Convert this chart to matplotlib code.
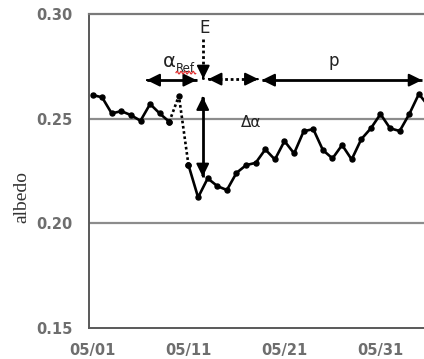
import numpy as np
import matplotlib
matplotlib.use("Agg")
import matplotlib.pyplot as plt

# Daily albedo, day 1 = May 1
days = np.arange(1, 37)
albedo = [0.2613, 0.2602, 0.2525, 0.2536, 0.2517, 0.2490, 0.2570, 0.2525, 0.2485,
          0.2609, 0.2278, 0.2124, 0.2215, 0.2178, 0.2159, 0.2241, 0.2278, 0.2289,
          0.2353, 0.2305, 0.2393, 0.2334, 0.2440, 0.2450, 0.2350, 0.2310, 0.2374,
          0.2305, 0.2402, 0.2454, 0.2522, 0.2454, 0.2441, 0.2522, 0.2618, 0.2560]
xtick_days = [1, 11, 21, 31]
xtick_labels = ["05/01", "05/11", "05/21", "05/31"]
yticks = [0.15, 0.20, 0.25, 0.30]
ytick_labels = ["0.15", "0.20", "0.25", "0.30"]

W, H = 424, 359
fig = plt.figure(figsize=(W / 100, H / 100), dpi=100)
ax = fig.add_axes([89 / W, 31 / H, (440 - 89) / W, (328 - 14) / H])
ax.set_xlim(0.635, 37.2)
ax.set_ylim(0.15, 0.30)

# horizontal reference lines
for yv in [0.20, 0.25]:
    ax.axhline(yv, color="#8c8c8c", lw=1.6, zorder=1)

for s in ["left", "bottom"]:
    ax.spines[s].set_color("#595959")
    ax.spines[s].set_linewidth(1.4)
ax.spines["top"].set_color("#7a7a7a")
ax.spines["top"].set_linewidth(1.6)
ax.spines["right"].set_visible(False)

ax.set_xticks(xtick_days)
ax.set_xticklabels(xtick_labels)
ax.set_yticks(yticks)
ax.set_yticklabels(ytick_labels)
ax.tick_params(length=0, labelcolor="#6e6e6e")
ax.tick_params(axis="y", pad=12)
ax.tick_params(axis="x", pad=11)
for lab in ax.get_xticklabels() + ax.get_yticklabels():
    lab.set_fontfamily("DejaVu Sans")
    lab.set_fontweight("bold")
    lab.set_fontsize(10.5)

fig.text(22 / W, 1 - 197 / H, "albedo", rotation=90, ha="center", va="center",
         family="Liberation Serif", fontsize=14, color="#333333")

d = np.array(days)
a = np.array(albedo)
lw = 1.9
ms = 3.6
# solid before the event, dotted across it, solid afterwards
ax.plot(d[:9], a[:9], color="black", lw=lw, marker="o", ms=ms, zorder=3)
ax.plot(d[8:11], a[8:11], color="black", lw=lw, ls=(0, (1, 1)), marker="o", ms=ms,
        zorder=3)
ax.plot(d[10:], a[10:], color="black", lw=lw, marker="o", ms=ms, zorder=3,
        clip_on=False)


def head(xy, xytext):
    ax.annotate("", xy=xy, xytext=xytext,
                arrowprops=dict(arrowstyle="-|>,head_length=0.65,head_width=0.32",
                                color="black", lw=1.5,
                                mutation_scale=12, shrinkA=0, shrinkB=0))


def arrow(p0, p1, dotted=False, both=True):
    ax.plot([p0[0], p1[0]], [p0[1], p1[1]], color="black", lw=2,
            ls=(0, (1, 1)) if dotted else "-", solid_capstyle="butt", zorder=4)
    dx, dy = p1[0] - p0[0], p1[1] - p0[1]
    f = 0.02
    head(p1, (p1[0] - dx * f, p1[1] - dy * f))
    if both:
        head(p0, (p0[0] + dx * f, p0[1] + dy * f))


# event marker
ax.text(12.72, 0.2933, "E", ha="center", va="center", fontsize=12, color="#222222")
arrow((12.54, 0.2880), (12.54, 0.2690), dotted=True, both=False)

# reference window
arrow((6.65, 0.2684), (11.85, 0.2684))
ax.text(9.65, 0.2772, "α", ha="right", va="center", fontsize=14, color="#222222")
ax.text(9.72, 0.2740, "Ref", ha="left", va="center", fontsize=8.5, color="#222222")
wx = np.linspace(9.7, 11.75, 120)
ax.plot(wx, 0.2720 + 0.0006 * np.sin((wx - 9.7) / 0.42 * 2 * np.pi),
        color="#e03030", lw=0.9, zorder=5)

# lag window and recovery period
arrow((13.06, 0.2689), (18.27, 0.2689), dotted=True)
arrow((18.63, 0.2684), (35.32, 0.2684))
ax.text(26.13, 0.2775, "p", ha="center", va="center", fontsize=12, color="#222222")

# albedo drop
arrow((12.48, 0.2605), (12.48, 0.2222))
ax.text(17.5, 0.2482, "Δα", ha="center", va="center", fontsize=11, color="#222222")

fig.savefig("out.png", dpi=100)
